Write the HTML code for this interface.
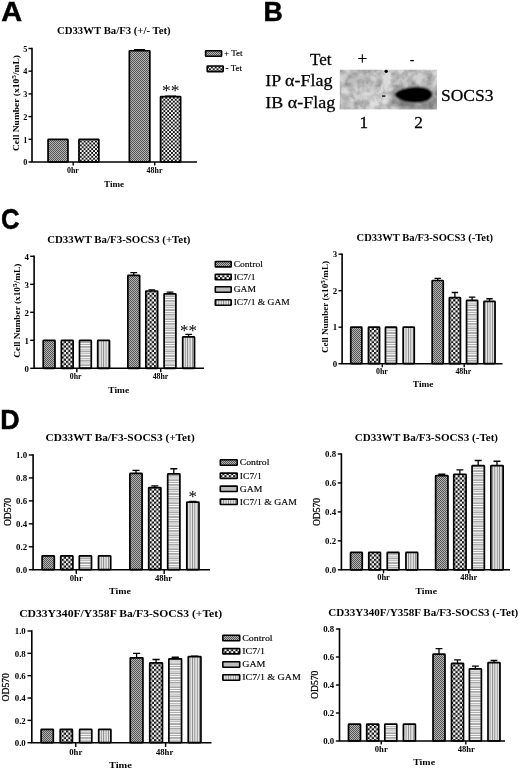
<!DOCTYPE html>
<html><head><meta charset="utf-8"><title>Figure</title>
<style>
html,body{margin:0;padding:0;background:#fff;}
svg{display:block;}
text{fill:#000;}
</style></head><body>
<svg width="520" height="770" viewBox="0 0 520 770">
<defs>
<pattern id="p1" width="2" height="2" patternUnits="userSpaceOnUse"><rect width="2" height="2" fill="#b4b4b4"/><rect width="1" height="1" fill="#555"/><rect x="1" y="1" width="1" height="1" fill="#555"/></pattern>
<pattern id="p2" width="4.4" height="4.4" patternUnits="userSpaceOnUse"><rect width="4.4" height="4.4" fill="#fff"/><rect width="2.2" height="2.2" fill="#111"/><rect x="2.2" y="2.2" width="2.2" height="2.2" fill="#111"/></pattern>
<pattern id="p2a" width="3.8" height="3.8" patternUnits="userSpaceOnUse"><rect width="3.8" height="3.8" fill="#fff"/><rect width="1.9" height="1.9" fill="#111"/><rect x="1.9" y="1.9" width="1.9" height="1.9" fill="#111"/></pattern>
<pattern id="p3" width="9.2" height="9.2" patternUnits="userSpaceOnUse" shape-rendering="crispEdges"><rect width="9.2" height="9.2" fill="#a8a8a8"/><rect width="9.2" height="0.95" fill="#fff"/><rect y="2.3" width="9.2" height="0.95" fill="#fff"/><rect y="4.6" width="9.2" height="0.95" fill="#fff"/><rect y="6.9" width="9.2" height="0.95" fill="#fff"/></pattern>
<pattern id="p4" width="2.4" height="2.4" patternUnits="userSpaceOnUse"><rect width="2.4" height="2.4" fill="#e8e8e8"/><rect width="0.9" height="2.4" fill="#858585"/></pattern>
<radialGradient id="band" cx="50%" cy="50%" r="50%"><stop offset="0" stop-color="#000"/><stop offset="0.75" stop-color="#050505"/><stop offset="1" stop-color="#222" stop-opacity="0"/></radialGradient>
<filter id="bl" x="-20%" y="-40%" width="140%" height="180%"><feGaussianBlur stdDeviation="1.3"/></filter>
<filter id="bl3" x="-50%" y="-50%" width="200%" height="200%"><feGaussianBlur stdDeviation="3.5"/></filter>
<clipPath id="blotclip"><rect x="339.6" y="69.6" width="97.4" height="40"/></clipPath>
<filter id="noise" x="0" y="0" width="100%" height="100%"><feTurbulence type="fractalNoise" baseFrequency="0.12" numOctaves="3" seed="4" result="n"/><feColorMatrix in="n" type="matrix" values="0 0 0 0 0  0 0 0 0 0  0 0 0 0 0  0.6 0 0 0 -0.2"/><feComposite operator="in" in2="SourceGraphic"/></filter>
<filter id="bl2" x="-50%" y="-50%" width="200%" height="200%"><feGaussianBlur stdDeviation="0.7"/></filter>
</defs>
<rect width="520" height="770" fill="#fff"/>

<text transform="translate(1.3 21.3) scale(1.04 1)" font-size="27.8" font-weight="bold" text-anchor="start" font-family='"Liberation Sans", sans-serif' stroke="#000" stroke-width="0.5">A</text>
<text transform="translate(263.4 21.3) scale(0.96 1)" font-size="27.8" font-weight="bold" text-anchor="start" font-family='"Liberation Sans", sans-serif' stroke="#000" stroke-width="0.5">B</text>
<text transform="translate(0.9 229.4) scale(0.87 1)" font-size="29.6" font-weight="bold" text-anchor="start" font-family='"Liberation Sans", sans-serif' stroke="#000" stroke-width="0.5">C</text>
<text transform="translate(0.2 429.1) scale(0.96 1)" font-size="28.0" font-weight="bold" text-anchor="start" font-family='"Liberation Sans", sans-serif' stroke="#000" stroke-width="0.5">D</text>
<rect x="48.05" y="139.30" width="19.90" height="22.70" rx="0.6" fill="url(#p1)" stroke="#000" stroke-width="1.7"/>
<rect x="78.95" y="139.30" width="19.90" height="22.70" rx="0.6" fill="url(#p2a)" stroke="#000" stroke-width="1.7"/>
<rect x="129.35" y="50.77" width="20.50" height="111.23" rx="0.6" fill="url(#p1)" stroke="#000" stroke-width="1.7"/>
<path d="M139.6 50.77 V49.63 M134.05 49.63 H145.14999999999998" stroke="#000" stroke-width="1.3" fill="none"/>
<rect x="160.55" y="96.62" width="20.10" height="65.38" rx="0.6" fill="url(#p2a)" stroke="#000" stroke-width="1.7"/>
<path d="M170.6 96.62 V96.17 M165.14999999999998 96.17 H176.05" stroke="#000" stroke-width="1.3" fill="none"/>
<path d="M32 47.7 V162.8 M31.2 162 H197" stroke="#000" stroke-width="1.6" fill="none"/>
<path d="M28.5 162.0 H32" stroke="#000" stroke-width="1.4"/>
<text transform="translate(27.3 165.2) scale(1.0 1)" font-size="8.2" font-weight="bold" text-anchor="end" font-family='"Liberation Serif", serif' >0</text>
<path d="M28.5 139.3 H32" stroke="#000" stroke-width="1.4"/>
<text transform="translate(27.3 142.5) scale(1.0 1)" font-size="8.2" font-weight="bold" text-anchor="end" font-family='"Liberation Serif", serif' >1</text>
<path d="M28.5 116.6 H32" stroke="#000" stroke-width="1.4"/>
<text transform="translate(27.3 119.8) scale(1.0 1)" font-size="8.2" font-weight="bold" text-anchor="end" font-family='"Liberation Serif", serif' >2</text>
<path d="M28.5 93.9 H32" stroke="#000" stroke-width="1.4"/>
<text transform="translate(27.3 97.10000000000001) scale(1.0 1)" font-size="8.2" font-weight="bold" text-anchor="end" font-family='"Liberation Serif", serif' >3</text>
<path d="M28.5 71.2 H32" stroke="#000" stroke-width="1.4"/>
<text transform="translate(27.3 74.4) scale(1.0 1)" font-size="8.2" font-weight="bold" text-anchor="end" font-family='"Liberation Serif", serif' >4</text>
<path d="M28.5 48.5 H32" stroke="#000" stroke-width="1.4"/>
<text transform="translate(27.3 51.7) scale(1.0 1)" font-size="8.2" font-weight="bold" text-anchor="end" font-family='"Liberation Serif", serif' >5</text>
<path d="M73.2 162 V165.5" stroke="#000" stroke-width="1.4"/>
<text transform="translate(72.9 173.3) scale(1.03 1)" font-size="7.7" font-weight="bold" text-anchor="middle" font-family='"Liberation Serif", serif' >0hr</text>
<path d="M154.7 162 V165.5" stroke="#000" stroke-width="1.4"/>
<text transform="translate(154.5 173.3) scale(1.03 1)" font-size="7.7" font-weight="bold" text-anchor="middle" font-family='"Liberation Serif", serif' >48hr</text>
<text transform="translate(113.8 34.1) scale(1.12 1)" font-size="9.6" font-weight="bold" text-anchor="middle" font-family='"Liberation Serif", serif' >CD33WT Ba/F3 (+/- Tet)</text>
<text transform="translate(114 186.8) scale(1.11 1)" font-size="8.2" font-weight="bold" text-anchor="middle" font-family='"Liberation Serif", serif' >Time</text>
<text transform="translate(18.6 103) rotate(-90) scale(1.133 1)" font-size="8.4" font-weight="bold" text-anchor="middle" font-family='"Liberation Serif", serif'>Cell Number (x10<tspan font-size="6.6" dy="-3">5</tspan><tspan dy="3">/mL)</tspan></text>
<rect x="205.60000000000002" y="50.7" width="16.0" height="5.6" rx="0.5" fill="url(#p1)" stroke="#000" stroke-width="1.6"/>
<text transform="translate(224.0 56.07) scale(1.0 1)" font-size="9.0" font-weight="normal" text-anchor="start" font-family='"Liberation Serif", serif' stroke="#000" stroke-width="0.15">+ Tet</text>
<rect x="207.20000000000002" y="66.0" width="16.0" height="5.6" rx="0.5" fill="url(#p2a)" stroke="#000" stroke-width="1.6"/>
<text transform="translate(225.6 71.36999999999999) scale(1.0 1)" font-size="9.0" font-weight="normal" text-anchor="start" font-family='"Liberation Serif", serif' stroke="#000" stroke-width="0.15">- Tet</text>
<text transform="translate(170.7 96.2) scale(1.0 1)" font-size="17.5" font-weight="normal" text-anchor="middle" font-family='"Liberation Serif", serif' >**</text>
<g clip-path="url(#blotclip)">
<rect x="339.6" y="69.6" width="97.4" height="40" fill="#dadada"/>
<g filter="url(#bl3)">
<ellipse cx="358" cy="80" rx="16" ry="8" fill="#bdbdbd"/>
<ellipse cx="377" cy="97" rx="11" ry="7" fill="#e9e9e9"/>
<ellipse cx="350" cy="108" rx="16" ry="4" fill="#c2c2c2"/>
<ellipse cx="372" cy="72" rx="10" ry="3" fill="#e4e4e4"/>
<ellipse cx="415" cy="76" rx="22" ry="6" fill="#cfcfcf"/>
<ellipse cx="416" cy="99" rx="27" ry="13" fill="#a8a8a8"/>
<ellipse cx="430" cy="107" rx="12" ry="6" fill="#9a9a9a"/>
</g>
<rect x="339.6" y="69.6" width="97.4" height="40" fill="#000" filter="url(#noise)"/>
<path d="M394.5 94.5 C398 89.5 408 87.2 418 87.4 C426 87.6 431.8 90 432 94 C432.2 98.5 426 102 417 102.3 C407 102.6 398 100 394.5 94.5 Z" fill="#000" filter="url(#bl)"/>
<path d="M397 94.5 C400 90.5 409 88.6 418 88.8 C425 89 430 91 430.2 94.2 C430.4 98 425 100.6 417 100.9 C408 101.2 400 98.8 397 94.5 Z" fill="#000" filter="url(#bl2)"/>
<circle cx="386.2" cy="71.2" r="1.7" fill="#000" filter="url(#bl2)"/>
<rect x="382" y="95.3" width="3.4" height="1.6" fill="#222" filter="url(#bl2)"/>
</g>
<text transform="translate(310 64.5) scale(1.03 1)" font-size="16.5" font-weight="normal" text-anchor="start" font-family='"Liberation Serif", serif' stroke="#000" stroke-width="0.25">Tet</text>
<text transform="translate(362.5 64) scale(1.05 1)" font-size="16.5" font-weight="normal" text-anchor="middle" font-family='"Liberation Serif", serif' stroke="#000" stroke-width="0.25">+</text>
<text transform="translate(412.1 65.3) scale(0.85 1)" font-size="16.5" font-weight="normal" text-anchor="middle" font-family='"Liberation Serif", serif' stroke="#000" stroke-width="0.1">-</text>
<text transform="translate(265.3 86.2) scale(1.09 1)" font-size="16.5" font-weight="normal" text-anchor="start" font-family='"Liberation Serif", serif' stroke="#000" stroke-width="0.25">IP α-Flag</text>
<text transform="translate(265.3 107.6) scale(1.09 1)" font-size="16.5" font-weight="normal" text-anchor="start" font-family='"Liberation Serif", serif' stroke="#000" stroke-width="0.25">IB α-Flag</text>
<text transform="translate(441 100.5) scale(1.06 1)" font-size="16.5" font-weight="normal" text-anchor="start" font-family='"Liberation Serif", serif' stroke="#000" stroke-width="0.25">SOCS3</text>
<text transform="translate(363.7 127.6) scale(1.05 1)" font-size="16.5" font-weight="normal" text-anchor="middle" font-family='"Liberation Serif", serif' stroke="#000" stroke-width="0.25">1</text>
<text transform="translate(418.5 127.6) scale(1.05 1)" font-size="16.5" font-weight="normal" text-anchor="middle" font-family='"Liberation Serif", serif' stroke="#000" stroke-width="0.25">2</text>
<rect x="43.20" y="340.30" width="11.80" height="28.00" rx="0.6" fill="url(#p1)" stroke="#000" stroke-width="1.7"/>
<rect x="61.35" y="340.30" width="11.80" height="28.00" rx="0.6" fill="url(#p2)" stroke="#000" stroke-width="1.7"/>
<rect x="79.50" y="340.30" width="11.80" height="28.00" rx="0.6" fill="url(#p3)" stroke="#000" stroke-width="1.7"/>
<rect x="97.70" y="340.30" width="11.80" height="28.00" rx="0.6" fill="url(#p4)" stroke="#000" stroke-width="1.7"/>
<rect x="127.85" y="275.34" width="11.80" height="92.96" rx="0.6" fill="url(#p1)" stroke="#000" stroke-width="1.7"/>
<path d="M133.75 275.34 V272.54 M130.375 272.54 H137.125" stroke="#000" stroke-width="1.3" fill="none"/>
<rect x="145.85" y="291.02" width="11.80" height="77.28" rx="0.6" fill="url(#p2)" stroke="#000" stroke-width="1.7"/>
<path d="M151.75 291.02 V289.90 M148.375 289.90 H155.125" stroke="#000" stroke-width="1.3" fill="none"/>
<rect x="164.10" y="293.82" width="11.80" height="74.48" rx="0.6" fill="url(#p3)" stroke="#000" stroke-width="1.7"/>
<path d="M170.0 293.82 V292.14 M166.625 292.14 H173.375" stroke="#000" stroke-width="1.3" fill="none"/>
<rect x="182.70" y="336.94" width="11.80" height="31.36" rx="0.6" fill="url(#p4)" stroke="#000" stroke-width="1.7"/>
<path d="M188.6 336.94 V334.42 M185.225 334.42 H191.975" stroke="#000" stroke-width="1.3" fill="none"/>
<path d="M34.1 255.5 V369.1 M33.300000000000004 368.3 H204" stroke="#000" stroke-width="1.6" fill="none"/>
<path d="M30.200000000000003 368.3 H34.1" stroke="#000" stroke-width="1.4"/>
<text transform="translate(29.000000000000004 371.5) scale(1.08 1)" font-size="8.2" font-weight="bold" text-anchor="end" font-family='"Liberation Serif", serif' >0</text>
<path d="M30.200000000000003 340.3 H34.1" stroke="#000" stroke-width="1.4"/>
<text transform="translate(29.000000000000004 343.5) scale(1.08 1)" font-size="8.2" font-weight="bold" text-anchor="end" font-family='"Liberation Serif", serif' >1</text>
<path d="M30.200000000000003 312.3 H34.1" stroke="#000" stroke-width="1.4"/>
<text transform="translate(29.000000000000004 315.5) scale(1.08 1)" font-size="8.2" font-weight="bold" text-anchor="end" font-family='"Liberation Serif", serif' >2</text>
<path d="M30.200000000000003 284.3 H34.1" stroke="#000" stroke-width="1.4"/>
<text transform="translate(29.000000000000004 287.5) scale(1.08 1)" font-size="8.2" font-weight="bold" text-anchor="end" font-family='"Liberation Serif", serif' >3</text>
<path d="M30.200000000000003 256.3 H34.1" stroke="#000" stroke-width="1.4"/>
<text transform="translate(29.000000000000004 259.5) scale(1.08 1)" font-size="8.2" font-weight="bold" text-anchor="end" font-family='"Liberation Serif", serif' >4</text>
<path d="M76.8 368.3 V372.2" stroke="#000" stroke-width="1.4"/>
<text transform="translate(75.7 379) scale(1.02 1)" font-size="7.7" font-weight="bold" text-anchor="middle" font-family='"Liberation Serif", serif' >0hr</text>
<path d="M160.8 368.3 V372.2" stroke="#000" stroke-width="1.4"/>
<text transform="translate(160.5 379) scale(1.02 1)" font-size="7.7" font-weight="bold" text-anchor="middle" font-family='"Liberation Serif", serif' >48hr</text>
<text transform="translate(118.8 243) scale(1.133 1)" font-size="9.6" font-weight="bold" text-anchor="middle" font-family='"Liberation Serif", serif' >CD33WT Ba/F3-SOCS3 (+Tet)</text>
<text transform="translate(118.75 392.5) scale(1.15 1)" font-size="8.2" font-weight="bold" text-anchor="middle" font-family='"Liberation Serif", serif' >Time</text>
<text transform="translate(19.6 310.7) rotate(-90) scale(1.107 1)" font-size="8.4" font-weight="bold" text-anchor="middle" font-family='"Liberation Serif", serif'>Cell Number (x10<tspan font-size="6.6" dy="-3">5</tspan><tspan dy="3">/mL)</tspan></text>
<rect x="215.3" y="261.5" width="15.9" height="5.4" rx="0.5" fill="url(#p1)" stroke="#000" stroke-width="1.6"/>
<text transform="translate(233.7 266.97) scale(1.06 1)" font-size="9" font-weight="normal" text-anchor="start" font-family='"Liberation Serif", serif' stroke="#000" stroke-width="0.15">Control</text>
<rect x="215.3" y="274.3" width="15.9" height="5.4" rx="0.5" fill="url(#p2)" stroke="#000" stroke-width="1.6"/>
<text transform="translate(233.7 279.77000000000004) scale(1.06 1)" font-size="9" font-weight="normal" text-anchor="start" font-family='"Liberation Serif", serif' stroke="#000" stroke-width="0.15">IC7/1</text>
<rect x="215.3" y="286.8" width="15.9" height="5.4" rx="0.5" fill="#bcbcbc" stroke="#000" stroke-width="1.6"/>
<text transform="translate(233.7 292.27000000000004) scale(1.06 1)" font-size="9" font-weight="normal" text-anchor="start" font-family='"Liberation Serif", serif' stroke="#000" stroke-width="0.15">GAM</text>
<rect x="215.3" y="299.8" width="15.9" height="5.4" rx="0.5" fill="url(#p4)" stroke="#000" stroke-width="1.6"/>
<text transform="translate(233.7 305.27000000000004) scale(1.06 1)" font-size="9" font-weight="normal" text-anchor="start" font-family='"Liberation Serif", serif' stroke="#000" stroke-width="0.15">IC7/1 &amp; GAM</text>
<text transform="translate(188.6 336.2) scale(1.0 1)" font-size="17" font-weight="normal" text-anchor="middle" font-family='"Liberation Serif", serif' >**</text>
<rect x="350.75" y="327.20" width="11.10" height="36.50" rx="0.6" fill="url(#p1)" stroke="#000" stroke-width="1.7"/>
<rect x="368.45" y="327.20" width="11.10" height="36.50" rx="0.6" fill="url(#p2)" stroke="#000" stroke-width="1.7"/>
<rect x="385.45" y="327.20" width="11.10" height="36.50" rx="0.6" fill="url(#p3)" stroke="#000" stroke-width="1.7"/>
<rect x="403.15" y="327.20" width="11.10" height="36.50" rx="0.6" fill="url(#p4)" stroke="#000" stroke-width="1.7"/>
<rect x="432.15" y="280.48" width="11.10" height="83.22" rx="0.6" fill="url(#p1)" stroke="#000" stroke-width="1.7"/>
<path d="M437.7 280.48 V278.29 M434.5 278.29 H440.9" stroke="#000" stroke-width="1.3" fill="none"/>
<rect x="449.35" y="297.63" width="11.10" height="66.06" rx="0.6" fill="url(#p2)" stroke="#000" stroke-width="1.7"/>
<path d="M454.9 297.63 V292.52 M451.7 292.52 H458.09999999999997" stroke="#000" stroke-width="1.3" fill="none"/>
<rect x="466.55" y="300.37" width="11.10" height="63.33" rx="0.6" fill="url(#p3)" stroke="#000" stroke-width="1.7"/>
<path d="M472.1 300.37 V297.09 M468.90000000000003 297.09 H475.3" stroke="#000" stroke-width="1.3" fill="none"/>
<rect x="483.95" y="301.47" width="11.10" height="62.23" rx="0.6" fill="url(#p4)" stroke="#000" stroke-width="1.7"/>
<path d="M489.5 301.47 V298.73 M486.3 298.73 H492.7" stroke="#000" stroke-width="1.3" fill="none"/>
<path d="M342.1 253.39999999999998 V364.5 M341.3 363.7 H502.5" stroke="#000" stroke-width="1.6" fill="none"/>
<path d="M338.5 363.7 H342.1" stroke="#000" stroke-width="1.4"/>
<text transform="translate(337.3 366.8) scale(1.08 1)" font-size="8.2" font-weight="bold" text-anchor="end" font-family='"Liberation Serif", serif' >0</text>
<path d="M338.5 327.2 H342.1" stroke="#000" stroke-width="1.4"/>
<text transform="translate(337.3 330.3) scale(1.08 1)" font-size="8.2" font-weight="bold" text-anchor="end" font-family='"Liberation Serif", serif' >1</text>
<path d="M338.5 290.7 H342.1" stroke="#000" stroke-width="1.4"/>
<text transform="translate(337.3 293.8) scale(1.08 1)" font-size="8.2" font-weight="bold" text-anchor="end" font-family='"Liberation Serif", serif' >2</text>
<path d="M338.5 254.2 H342.1" stroke="#000" stroke-width="1.4"/>
<text transform="translate(337.3 257.3) scale(1.08 1)" font-size="8.2" font-weight="bold" text-anchor="end" font-family='"Liberation Serif", serif' >3</text>
<path d="M382.3 363.7 V367.3" stroke="#000" stroke-width="1.4"/>
<text transform="translate(381.9 373.6) scale(1.03 1)" font-size="7.7" font-weight="bold" text-anchor="middle" font-family='"Liberation Serif", serif' >0hr</text>
<path d="M464.2 363.7 V367.3" stroke="#000" stroke-width="1.4"/>
<text transform="translate(463.3 373.6) scale(1.03 1)" font-size="7.7" font-weight="bold" text-anchor="middle" font-family='"Liberation Serif", serif' >48hr</text>
<text transform="translate(424.8 240.8) scale(1.1 1)" font-size="9.6" font-weight="bold" text-anchor="middle" font-family='"Liberation Serif", serif' >CD33WT Ba/F3-SOCS3 (-Tet)</text>
<text transform="translate(423.1 387.1) scale(1.14 1)" font-size="8.2" font-weight="bold" text-anchor="middle" font-family='"Liberation Serif", serif' >Time</text>
<text transform="translate(327.5 307) rotate(-90) scale(1.088 1)" font-size="8.4" font-weight="bold" text-anchor="middle" font-family='"Liberation Serif", serif'>Cell Number (x10<tspan font-size="6.6" dy="-3">5</tspan><tspan dy="3">/mL)</tspan></text>
<rect x="42.10" y="555.94" width="12.20" height="13.76" rx="0.6" fill="url(#p1)" stroke="#000" stroke-width="1.7"/>
<rect x="60.70" y="555.94" width="12.20" height="13.76" rx="0.6" fill="url(#p2)" stroke="#000" stroke-width="1.7"/>
<rect x="79.30" y="555.94" width="12.20" height="13.76" rx="0.6" fill="url(#p3)" stroke="#000" stroke-width="1.7"/>
<rect x="98.50" y="555.94" width="12.20" height="13.76" rx="0.6" fill="url(#p4)" stroke="#000" stroke-width="1.7"/>
<rect x="129.90" y="473.35" width="12.20" height="96.35" rx="0.6" fill="url(#p1)" stroke="#000" stroke-width="1.7"/>
<path d="M136.0 473.35 V470.37 M132.525 470.37 H139.475" stroke="#000" stroke-width="1.3" fill="none"/>
<rect x="148.70" y="487.69" width="12.20" height="82.01" rx="0.6" fill="url(#p2)" stroke="#000" stroke-width="1.7"/>
<path d="M154.8 487.69 V485.97 M151.32500000000002 485.97 H158.275" stroke="#000" stroke-width="1.3" fill="none"/>
<rect x="167.70" y="473.93" width="12.20" height="95.77" rx="0.6" fill="url(#p3)" stroke="#000" stroke-width="1.7"/>
<path d="M173.8 473.93 V468.76 M170.32500000000002 468.76 H177.275" stroke="#000" stroke-width="1.3" fill="none"/>
<rect x="186.80" y="502.03" width="12.20" height="67.67" rx="0.6" fill="url(#p4)" stroke="#000" stroke-width="1.7"/>
<path d="M192.9 502.03 V501.45 M189.425 501.45 H196.375" stroke="#000" stroke-width="1.3" fill="none"/>
<path d="M33.1 454.2 V570.5 M32.300000000000004 569.7 H210" stroke="#000" stroke-width="1.6" fill="none"/>
<path d="M28.8 569.7 H33.1" stroke="#000" stroke-width="1.4"/>
<text transform="translate(27.1 572.9000000000001) scale(1.08 1)" font-size="8.2" font-weight="bold" text-anchor="end" font-family='"Liberation Serif", serif' >0.0</text>
<path d="M28.8 546.76 H33.1" stroke="#000" stroke-width="1.4"/>
<text transform="translate(27.1 549.96) scale(1.08 1)" font-size="8.2" font-weight="bold" text-anchor="end" font-family='"Liberation Serif", serif' >0.2</text>
<path d="M28.8 523.82 H33.1" stroke="#000" stroke-width="1.4"/>
<text transform="translate(27.1 527.0200000000001) scale(1.08 1)" font-size="8.2" font-weight="bold" text-anchor="end" font-family='"Liberation Serif", serif' >0.4</text>
<path d="M28.8 500.88 H33.1" stroke="#000" stroke-width="1.4"/>
<text transform="translate(27.1 504.08) scale(1.08 1)" font-size="8.2" font-weight="bold" text-anchor="end" font-family='"Liberation Serif", serif' >0.6</text>
<path d="M28.8 477.94 H33.1" stroke="#000" stroke-width="1.4"/>
<text transform="translate(27.1 481.14) scale(1.08 1)" font-size="8.2" font-weight="bold" text-anchor="end" font-family='"Liberation Serif", serif' >0.8</text>
<path d="M28.8 455.0 H33.1" stroke="#000" stroke-width="1.4"/>
<text transform="translate(27.1 458.2) scale(1.08 1)" font-size="8.2" font-weight="bold" text-anchor="end" font-family='"Liberation Serif", serif' >1.0</text>
<path d="M76.25 569.7 V574.0" stroke="#000" stroke-width="1.4"/>
<text transform="translate(76.25 580.6) scale(1.12 1)" font-size="7.7" font-weight="bold" text-anchor="middle" font-family='"Liberation Serif", serif' >0hr</text>
<path d="M164.2 569.7 V574.0" stroke="#000" stroke-width="1.4"/>
<text transform="translate(163.5 580.6) scale(1.12 1)" font-size="7.7" font-weight="bold" text-anchor="middle" font-family='"Liberation Serif", serif' >48hr</text>
<text transform="translate(120.1 441) scale(1.18 1)" font-size="9.6" font-weight="bold" text-anchor="middle" font-family='"Liberation Serif", serif' >CD33WT Ba/F3-SOCS3 (+Tet)</text>
<text transform="translate(120 594.2) scale(1.21 1)" font-size="8.2" font-weight="bold" text-anchor="middle" font-family='"Liberation Serif", serif' >Time</text>
<text transform="translate(10.799999999999999 512) rotate(-90) scale(1.02 1)" font-size="9.4" font-weight="normal" stroke="#000" stroke-width="0.25" text-anchor="middle" font-family='"Liberation Serif", serif'>OD570</text>
<rect x="220.3" y="459.8" width="16.9" height="5.4" rx="0.5" fill="url(#p1)" stroke="#000" stroke-width="1.6"/>
<text transform="translate(239.7 465.27000000000004) scale(1.08 1)" font-size="9" font-weight="normal" text-anchor="start" font-family='"Liberation Serif", serif' stroke="#000" stroke-width="0.15">Control</text>
<rect x="220.3" y="473.1" width="16.9" height="5.4" rx="0.5" fill="url(#p2)" stroke="#000" stroke-width="1.6"/>
<text transform="translate(239.7 478.57000000000005) scale(1.08 1)" font-size="9" font-weight="normal" text-anchor="start" font-family='"Liberation Serif", serif' stroke="#000" stroke-width="0.15">IC7/1</text>
<rect x="220.3" y="486.1" width="16.9" height="5.4" rx="0.5" fill="#bcbcbc" stroke="#000" stroke-width="1.6"/>
<text transform="translate(239.7 491.57000000000005) scale(1.08 1)" font-size="9" font-weight="normal" text-anchor="start" font-family='"Liberation Serif", serif' stroke="#000" stroke-width="0.15">GAM</text>
<rect x="220.3" y="499.1" width="16.9" height="5.4" rx="0.5" fill="url(#p4)" stroke="#000" stroke-width="1.6"/>
<text transform="translate(239.7 504.57000000000005) scale(1.08 1)" font-size="9" font-weight="normal" text-anchor="start" font-family='"Liberation Serif", serif' stroke="#000" stroke-width="0.15">IC7/1 &amp; GAM</text>
<text transform="translate(192.7 502.3) scale(1.0 1)" font-size="17" font-weight="normal" text-anchor="middle" font-family='"Liberation Serif", serif' >*</text>
<rect x="350.55" y="552.43" width="11.70" height="17.37" rx="0.6" fill="url(#p1)" stroke="#000" stroke-width="1.7"/>
<rect x="368.75" y="552.43" width="11.70" height="17.37" rx="0.6" fill="url(#p2)" stroke="#000" stroke-width="1.7"/>
<rect x="387.25" y="552.43" width="11.70" height="17.37" rx="0.6" fill="url(#p3)" stroke="#000" stroke-width="1.7"/>
<rect x="405.95" y="552.43" width="11.70" height="17.37" rx="0.6" fill="url(#p4)" stroke="#000" stroke-width="1.7"/>
<rect x="435.65" y="475.71" width="12.30" height="94.09" rx="0.6" fill="url(#p1)" stroke="#000" stroke-width="1.7"/>
<path d="M441.8 475.71 V474.26 M438.3 474.26 H445.3" stroke="#000" stroke-width="1.3" fill="none"/>
<rect x="453.75" y="474.26" width="12.30" height="95.53" rx="0.6" fill="url(#p2)" stroke="#000" stroke-width="1.7"/>
<path d="M459.9 474.26 V469.92 M456.4 469.92 H463.4" stroke="#000" stroke-width="1.3" fill="none"/>
<rect x="472.05" y="465.58" width="12.30" height="104.22" rx="0.6" fill="url(#p3)" stroke="#000" stroke-width="1.7"/>
<path d="M478.2 465.58 V460.51 M474.7 460.51 H481.7" stroke="#000" stroke-width="1.3" fill="none"/>
<rect x="490.85" y="465.58" width="12.30" height="104.22" rx="0.6" fill="url(#p4)" stroke="#000" stroke-width="1.7"/>
<path d="M497.0 465.58 V461.24 M493.5 461.24 H500.5" stroke="#000" stroke-width="1.3" fill="none"/>
<path d="M341.4 453.2 V570.5999999999999 M340.59999999999997 569.8 H510" stroke="#000" stroke-width="1.6" fill="none"/>
<path d="M337.79999999999995 569.8 H341.4" stroke="#000" stroke-width="1.4"/>
<text transform="translate(336.09999999999997 573.0) scale(1.08 1)" font-size="8.2" font-weight="bold" text-anchor="end" font-family='"Liberation Serif", serif' >0.0</text>
<path d="M337.79999999999995 540.8499999999999 H341.4" stroke="#000" stroke-width="1.4"/>
<text transform="translate(336.09999999999997 544.05) scale(1.08 1)" font-size="8.2" font-weight="bold" text-anchor="end" font-family='"Liberation Serif", serif' >0.2</text>
<path d="M337.79999999999995 511.9 H341.4" stroke="#000" stroke-width="1.4"/>
<text transform="translate(336.09999999999997 515.1) scale(1.08 1)" font-size="8.2" font-weight="bold" text-anchor="end" font-family='"Liberation Serif", serif' >0.4</text>
<path d="M337.79999999999995 482.95 H341.4" stroke="#000" stroke-width="1.4"/>
<text transform="translate(336.09999999999997 486.15) scale(1.08 1)" font-size="8.2" font-weight="bold" text-anchor="end" font-family='"Liberation Serif", serif' >0.6</text>
<path d="M337.79999999999995 454.0 H341.4" stroke="#000" stroke-width="1.4"/>
<text transform="translate(336.09999999999997 457.2) scale(1.08 1)" font-size="8.2" font-weight="bold" text-anchor="end" font-family='"Liberation Serif", serif' >0.8</text>
<path d="M383.5 569.8 V573.4" stroke="#000" stroke-width="1.4"/>
<text transform="translate(383.5 580.4) scale(1.1 1)" font-size="7.7" font-weight="bold" text-anchor="middle" font-family='"Liberation Serif", serif' >0hr</text>
<path d="M468.75 569.8 V573.4" stroke="#000" stroke-width="1.4"/>
<text transform="translate(468.75 580.4) scale(1.1 1)" font-size="7.7" font-weight="bold" text-anchor="middle" font-family='"Liberation Serif", serif' >48hr</text>
<text transform="translate(426.4 440.6) scale(1.153 1)" font-size="9.6" font-weight="bold" text-anchor="middle" font-family='"Liberation Serif", serif' >CD33WT Ba/F3-SOCS3 (-Tet)</text>
<text transform="translate(426.25 594.1) scale(1.184 1)" font-size="8.2" font-weight="bold" text-anchor="middle" font-family='"Liberation Serif", serif' >Time</text>
<text transform="translate(320.1 512) rotate(-90) scale(1.02 1)" font-size="9.4" font-weight="normal" stroke="#000" stroke-width="0.25" text-anchor="middle" font-family='"Liberation Serif", serif'>OD570</text>
<rect x="41.10" y="729.30" width="12.20" height="13.40" rx="0.6" fill="url(#p1)" stroke="#000" stroke-width="1.7"/>
<rect x="60.20" y="729.30" width="12.20" height="13.40" rx="0.6" fill="url(#p2)" stroke="#000" stroke-width="1.7"/>
<rect x="79.60" y="729.30" width="12.20" height="13.40" rx="0.6" fill="url(#p3)" stroke="#000" stroke-width="1.7"/>
<rect x="98.70" y="729.30" width="12.20" height="13.40" rx="0.6" fill="url(#p4)" stroke="#000" stroke-width="1.7"/>
<rect x="130.25" y="657.81" width="12.70" height="84.89" rx="0.6" fill="url(#p1)" stroke="#000" stroke-width="1.7"/>
<path d="M136.6 657.81 V653.34 M133.0 653.34 H140.2" stroke="#000" stroke-width="1.3" fill="none"/>
<rect x="149.75" y="662.83" width="12.70" height="79.87" rx="0.6" fill="url(#p2)" stroke="#000" stroke-width="1.7"/>
<path d="M156.1 662.83 V659.48 M152.5 659.48 H159.7" stroke="#000" stroke-width="1.3" fill="none"/>
<rect x="168.85" y="658.92" width="12.70" height="83.78" rx="0.6" fill="url(#p3)" stroke="#000" stroke-width="1.7"/>
<path d="M175.2 658.92 V657.25 M171.6 657.25 H178.79999999999998" stroke="#000" stroke-width="1.3" fill="none"/>
<rect x="188.25" y="656.69" width="12.70" height="86.01" rx="0.6" fill="url(#p4)" stroke="#000" stroke-width="1.7"/>
<path d="M194.6 656.69 V656.13 M191.0 656.13 H198.2" stroke="#000" stroke-width="1.3" fill="none"/>
<path d="M31.8 630.2 V743.5 M31.0 742.7 H211.5" stroke="#000" stroke-width="1.6" fill="none"/>
<path d="M27.5 742.7 H31.8" stroke="#000" stroke-width="1.4"/>
<text transform="translate(25.8 745.9000000000001) scale(1.08 1)" font-size="8.2" font-weight="bold" text-anchor="end" font-family='"Liberation Serif", serif' >0.0</text>
<path d="M27.5 720.36 H31.8" stroke="#000" stroke-width="1.4"/>
<text transform="translate(25.8 723.5600000000001) scale(1.08 1)" font-size="8.2" font-weight="bold" text-anchor="end" font-family='"Liberation Serif", serif' >0.2</text>
<path d="M27.5 698.02 H31.8" stroke="#000" stroke-width="1.4"/>
<text transform="translate(25.8 701.22) scale(1.08 1)" font-size="8.2" font-weight="bold" text-anchor="end" font-family='"Liberation Serif", serif' >0.4</text>
<path d="M27.5 675.6800000000001 H31.8" stroke="#000" stroke-width="1.4"/>
<text transform="translate(25.8 678.8800000000001) scale(1.08 1)" font-size="8.2" font-weight="bold" text-anchor="end" font-family='"Liberation Serif", serif' >0.6</text>
<path d="M27.5 653.34 H31.8" stroke="#000" stroke-width="1.4"/>
<text transform="translate(25.8 656.5400000000001) scale(1.08 1)" font-size="8.2" font-weight="bold" text-anchor="end" font-family='"Liberation Serif", serif' >0.8</text>
<path d="M27.5 631.0 H31.8" stroke="#000" stroke-width="1.4"/>
<text transform="translate(25.8 634.2) scale(1.08 1)" font-size="8.2" font-weight="bold" text-anchor="end" font-family='"Liberation Serif", serif' >1.0</text>
<path d="M75.75 742.7 V747.0" stroke="#000" stroke-width="1.4"/>
<text transform="translate(75.75 755) scale(1.13 1)" font-size="7.7" font-weight="bold" text-anchor="middle" font-family='"Liberation Serif", serif' >0hr</text>
<path d="M165.6 742.7 V747.0" stroke="#000" stroke-width="1.4"/>
<text transform="translate(164.6 755) scale(1.13 1)" font-size="7.7" font-weight="bold" text-anchor="middle" font-family='"Liberation Serif", serif' >48hr</text>
<text transform="translate(120.6 616.8) scale(1.214 1)" font-size="9.6" font-weight="bold" text-anchor="middle" font-family='"Liberation Serif", serif' >CD33Y340F/Y358F Ba/F3-SOCS3 (+Tet)</text>
<text transform="translate(120.4 767.5) scale(1.27 1)" font-size="8.2" font-weight="bold" text-anchor="middle" font-family='"Liberation Serif", serif' >Time</text>
<text transform="translate(8.799999999999999 687.3) rotate(-90) scale(1.02 1)" font-size="9.4" font-weight="normal" stroke="#000" stroke-width="0.25" text-anchor="middle" font-family='"Liberation Serif", serif'>OD570</text>
<rect x="222.8" y="635.3" width="16.9" height="5.4" rx="0.5" fill="url(#p1)" stroke="#000" stroke-width="1.6"/>
<text transform="translate(242.2 640.77) scale(1.108 1)" font-size="9" font-weight="normal" text-anchor="start" font-family='"Liberation Serif", serif' stroke="#000" stroke-width="0.15">Control</text>
<rect x="222.8" y="648.5" width="16.9" height="5.4" rx="0.5" fill="url(#p2)" stroke="#000" stroke-width="1.6"/>
<text transform="translate(242.2 653.97) scale(1.108 1)" font-size="9" font-weight="normal" text-anchor="start" font-family='"Liberation Serif", serif' stroke="#000" stroke-width="0.15">IC7/1</text>
<rect x="222.8" y="661.8" width="16.9" height="5.4" rx="0.5" fill="#bcbcbc" stroke="#000" stroke-width="1.6"/>
<text transform="translate(242.2 667.27) scale(1.108 1)" font-size="9" font-weight="normal" text-anchor="start" font-family='"Liberation Serif", serif' stroke="#000" stroke-width="0.15">GAM</text>
<rect x="222.8" y="674.8" width="16.9" height="5.4" rx="0.5" fill="url(#p4)" stroke="#000" stroke-width="1.6"/>
<text transform="translate(242.2 680.27) scale(1.108 1)" font-size="9" font-weight="normal" text-anchor="start" font-family='"Liberation Serif", serif' stroke="#000" stroke-width="0.15">IC7/1 &amp; GAM</text>
<rect x="348.50" y="724.20" width="12.00" height="16.80" rx="0.6" fill="url(#p1)" stroke="#000" stroke-width="1.7"/>
<rect x="366.70" y="724.20" width="12.00" height="16.80" rx="0.6" fill="url(#p2)" stroke="#000" stroke-width="1.7"/>
<rect x="384.80" y="724.20" width="12.00" height="16.80" rx="0.6" fill="url(#p3)" stroke="#000" stroke-width="1.7"/>
<rect x="403.40" y="724.20" width="12.00" height="16.80" rx="0.6" fill="url(#p4)" stroke="#000" stroke-width="1.7"/>
<rect x="433.00" y="654.20" width="12.00" height="86.80" rx="0.6" fill="url(#p1)" stroke="#000" stroke-width="1.7"/>
<path d="M439.0 654.20 V648.60 M435.575 648.60 H442.425" stroke="#000" stroke-width="1.3" fill="none"/>
<rect x="451.50" y="663.30" width="12.00" height="77.70" rx="0.6" fill="url(#p2)" stroke="#000" stroke-width="1.7"/>
<path d="M457.5 663.30 V659.80 M454.075 659.80 H460.925" stroke="#000" stroke-width="1.3" fill="none"/>
<rect x="469.40" y="668.90" width="12.00" height="72.10" rx="0.6" fill="url(#p3)" stroke="#000" stroke-width="1.7"/>
<path d="M475.4 668.90 V666.10 M471.97499999999997 666.10 H478.825" stroke="#000" stroke-width="1.3" fill="none"/>
<rect x="488.00" y="662.60" width="12.00" height="78.40" rx="0.6" fill="url(#p4)" stroke="#000" stroke-width="1.7"/>
<path d="M494.0 662.60 V660.50 M490.575 660.50 H497.425" stroke="#000" stroke-width="1.3" fill="none"/>
<path d="M339.5 628.2 V741.8 M338.7 741 H505" stroke="#000" stroke-width="1.6" fill="none"/>
<path d="M335.9 741.0 H339.5" stroke="#000" stroke-width="1.4"/>
<text transform="translate(334.2 744.2) scale(1.08 1)" font-size="8.2" font-weight="bold" text-anchor="end" font-family='"Liberation Serif", serif' >0.0</text>
<path d="M335.9 713.0 H339.5" stroke="#000" stroke-width="1.4"/>
<text transform="translate(334.2 716.2) scale(1.08 1)" font-size="8.2" font-weight="bold" text-anchor="end" font-family='"Liberation Serif", serif' >0.2</text>
<path d="M335.9 685.0 H339.5" stroke="#000" stroke-width="1.4"/>
<text transform="translate(334.2 688.2) scale(1.08 1)" font-size="8.2" font-weight="bold" text-anchor="end" font-family='"Liberation Serif", serif' >0.4</text>
<path d="M335.9 657.0 H339.5" stroke="#000" stroke-width="1.4"/>
<text transform="translate(334.2 660.2) scale(1.08 1)" font-size="8.2" font-weight="bold" text-anchor="end" font-family='"Liberation Serif", serif' >0.6</text>
<path d="M335.9 629.0 H339.5" stroke="#000" stroke-width="1.4"/>
<text transform="translate(334.2 632.2) scale(1.08 1)" font-size="8.2" font-weight="bold" text-anchor="end" font-family='"Liberation Serif", serif' >0.8</text>
<path d="M381.25 741 V744.6" stroke="#000" stroke-width="1.4"/>
<text transform="translate(381.25 751.6) scale(1.12 1)" font-size="7.7" font-weight="bold" text-anchor="middle" font-family='"Liberation Serif", serif' >0hr</text>
<path d="M465.8 741 V744.6" stroke="#000" stroke-width="1.4"/>
<text transform="translate(466.25 751.6) scale(1.12 1)" font-size="7.7" font-weight="bold" text-anchor="middle" font-family='"Liberation Serif", serif' >48hr</text>
<text transform="translate(423.3 615.6) scale(1.151 1)" font-size="9.6" font-weight="bold" text-anchor="middle" font-family='"Liberation Serif", serif' >CD33Y340F/Y358F Ba/F3-SOCS3 (-Tet)</text>
<text transform="translate(424.1 765.1) scale(1.21 1)" font-size="8.2" font-weight="bold" text-anchor="middle" font-family='"Liberation Serif", serif' >Time</text>
<text transform="translate(318.3 684.8) rotate(-90) scale(1.02 1)" font-size="9.4" font-weight="normal" stroke="#000" stroke-width="0.25" text-anchor="middle" font-family='"Liberation Serif", serif'>OD570</text>
</svg></body></html>
